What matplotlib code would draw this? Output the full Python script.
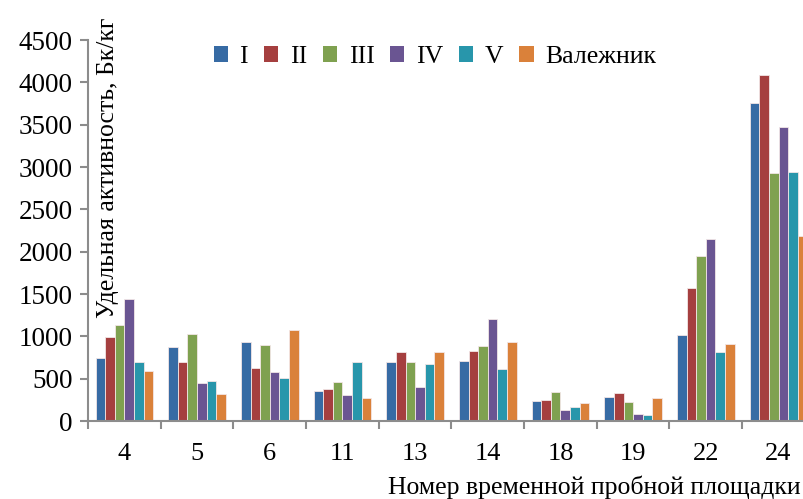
import numpy as np
import matplotlib.pyplot as plt
from matplotlib.patches import Patch

plt.rcParams['font.family'] = ['Liberation Serif', 'DejaVu Serif']

plots = ['4', '5', '6', '11', '13', '14', '18', '19', '22', '24']
series_names = ['I', 'II', 'III', 'IV', 'V', 'Валежник']

s_I = [740, 874, 929, 354, 693, 709, 232, 283, 1012, 3760]
s_II = [988, 693, 626, 378, 819, 827, 248, 335, 1571, 4083]
s_III = [1130, 1027, 894, 461, 697, 886, 339, 224, 1945, 2933]
s_IV = [1441, 445, 579, 303, 398, 1205, 130, 83, 2150, 3476]
s_V = [700, 472, 508, 693, 673, 614, 165, 71, 811, 2945]
s_fallen = [590, 319, 1079, 272, 815, 937, 217, 268, 906, 2189]

colors = ['#376ba4', '#a53f3f', '#7fa150', '#6a5592', '#2896ab', '#da813a']

fig = plt.figure(figsize=(8.04, 4.99), dpi=100)
ax = fig.add_axes([0.1095, 0.1563, 0.904, 0.7635])

x = np.arange(len(plots))
w = 0.132
for j, vals in enumerate([s_I, s_II, s_III, s_IV, s_V, s_fallen]):
    ax.bar(x + (j - 2.5) * w, vals, width=w, color=colors[j],
           edgecolor='#f2e6e6', linewidth=0.6, zorder=2)

ax.set_xlim(-0.5, len(plots) - 0.5)
ax.set_ylim(0, 4500)
ax.set_yticks(np.arange(0, 4501, 500))

# category boundaries as major ticks, labels on minor ticks
ax.set_xticks(np.arange(-0.5, len(plots), 1.0))
ax.set_xticklabels([])
ax.set_xticks(x, minor=True)
ax.set_xticklabels(plots, minor=True)
ax.tick_params(axis='x', which='minor', length=0, labelsize=19, pad=16)
ax.tick_params(axis='x', which='major', length=6, width=1.5, color='#8c8c8c')
ax.tick_params(axis='y', length=6, width=1.5, color='#8c8c8c', labelsize=19.5, pad=5)

for side in ['top', 'right']:
    ax.spines[side].set_visible(False)
for side in ['left', 'bottom']:
    ax.spines[side].set_color('#8c8c8c')
    ax.spines[side].set_linewidth(1.5)

fig.text(0.134, 0.663, 'Удельная активность, Бк/кг', rotation=90,
         fontsize=18.5, ha='center', va='center')
fig.text(0.996, 0.0, 'Номер временной пробной площадки',
         fontsize=18.5, ha='right', va='bottom')

handles = [Patch(facecolor=c, edgecolor='none') for c in colors]
fig.legend(handles, series_names, loc='center', bbox_to_anchor=(0.541, 0.886),
           ncol=6, frameon=False, fontsize=18.5, handlelength=0.55,
           handleheight=0.55, handletextpad=0.45, columnspacing=0.62)

fig.savefig('out.png', dpi=100)
